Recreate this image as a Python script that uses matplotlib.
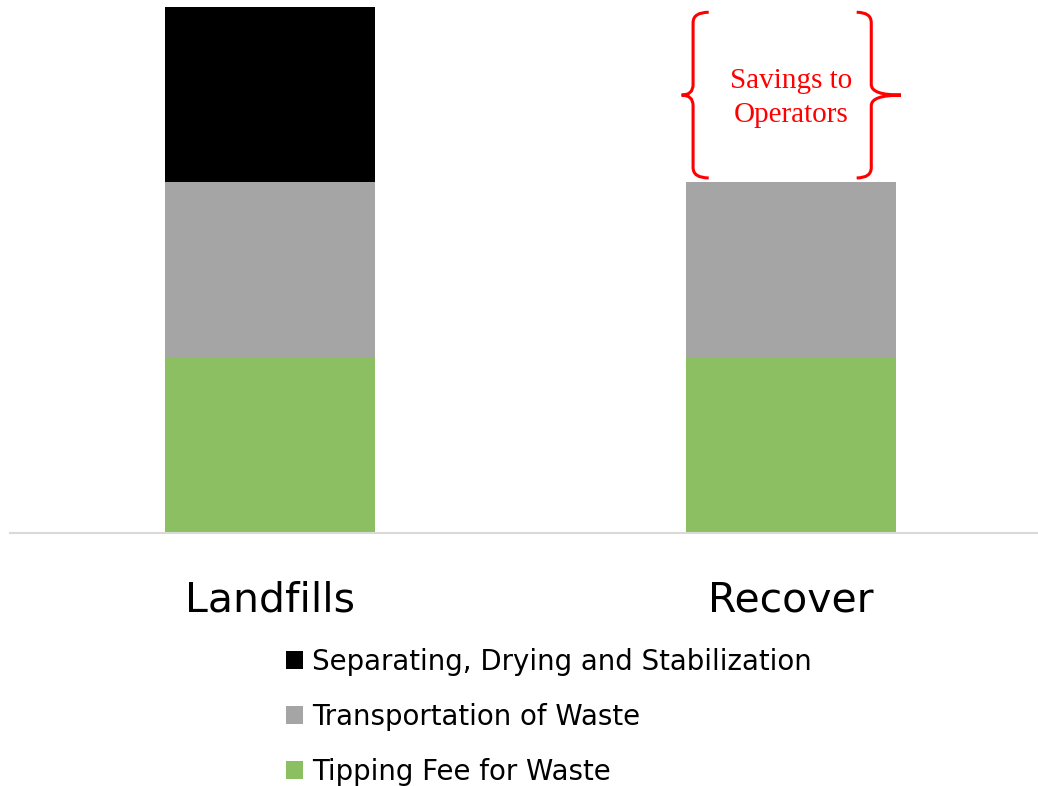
import matplotlib.pyplot as plt
from matplotlib.path import Path
from matplotlib.patches import PathPatch

categories = ["Landfills", "Recover"]
tipping_fee = [1.0, 1.0]
transportation = [1.0, 1.0]
separating = [1.0, 0.0]

series_labels = ["Tipping Fee for Waste", "Transportation of Waste",
                 "Separating, Drying and Stabilization"]
colors = ["#8bbf61", "#a5a5a5", "#000000"]


def brace(ax, x_v, x_arm, x_tip, y0, y1, r, **kw):
    # curly brace drawn vertically: arms end at x_arm, middle point at x_tip
    ym = (y0 + y1) / 2
    verts = [(x_arm, y1), (x_v, y1), (x_v, y1 - r),
             (x_v, ym + r), (x_v, ym), (x_tip, ym),
             (x_v, ym), (x_v, ym - r),
             (x_v, y0 + r), (x_v, y0), (x_arm, y0)]
    codes = [Path.MOVETO, Path.CURVE3, Path.CURVE3,
             Path.LINETO, Path.CURVE3, Path.CURVE3,
             Path.CURVE3, Path.CURVE3,
             Path.LINETO, Path.CURVE3, Path.CURVE3]
    ax.add_patch(PathPatch(Path(verts, codes), fill=False, **kw))


fig = plt.figure(figsize=(10.38, 7.86), dpi=100)
ax = fig.add_axes([10 / 1038, 1 - 533 / 786, 1028 / 1038, 526 / 786])

x = [0, 1]
w = 0.403
b1 = ax.bar(x, tipping_fee, w, color=colors[0], label=series_labels[0])
bottom2 = tipping_fee
b2 = ax.bar(x, transportation, w, bottom=bottom2, color=colors[1], label=series_labels[1])
bottom3 = [a + b for a, b in zip(tipping_fee, transportation)]
b3 = ax.bar(x, separating, w, bottom=bottom3, color=colors[2], label=series_labels[2])

ax.set_xlim(-0.499, 1.474)
ax.set_ylim(0, 3)
ax.set_yticks([])
ax.set_xticks(x)
ax.set_xticklabels(categories, fontsize=29.5)
ax.tick_params(axis="x", length=0, pad=34)
for side in ["top", "right", "left"]:
    ax.spines[side].set_visible(False)
ax.spines["bottom"].set_color("#d9d9d9")
ax.spines["bottom"].set_linewidth(1.5)

# savings bracket on the Recover bar
top_landfill = bottom3[0] + separating[0]
top_recover = bottom3[1] + separating[1]
y0 = top_recover + 0.025
y1 = top_landfill - 0.03
brace(ax, 0.812, 0.842, 0.790, y0, y1, 0.06, color="red", lw=2.2)
brace(ax, 1.154, 1.126, 1.211, y0, y1, 0.06, color="red", lw=2.2)
ax.text(1.0, (y0 + y1) / 2 - 0.015, "Savings to\nOperators", color="red",
        family="Liberation Serif", fontsize=21, ha="center", va="center",
        linespacing=1.4)

fig.legend(handles=[b3, b2, b1], loc="upper left",
           bbox_to_anchor=(286 / 1038, 1 - 648 / 786), frameon=False,
           fontsize=19.9, handlelength=0.62, handleheight=0.62,
           handletextpad=0.33, labelspacing=0.98, borderpad=0, borderaxespad=0)

fig.savefig("out.png", dpi=100)
